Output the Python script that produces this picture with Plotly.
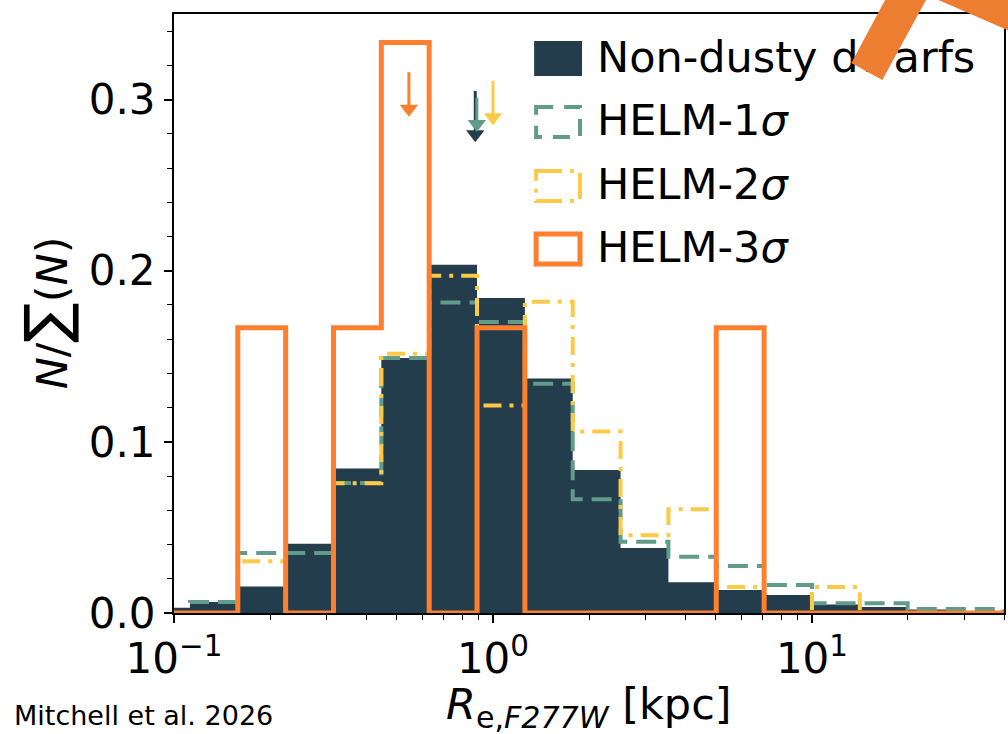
import numpy as np
import plotly.graph_objects as go

# ---- histogram data: log10 bin edges in kpc and normalised counts per bin ----
log_edges = [-1.10, -0.95, -0.80, -0.65, -0.50, -0.35, -0.20, -0.05, 0.10,
             0.25, 0.40, 0.55, 0.70, 0.85, 1.00, 1.15, 1.30, 1.45, 1.60]

frac_nondusty = [0.003, 0.0065, 0.0155, 0.0405, 0.0845, 0.149, 0.2035, 0.184,
                 0.137, 0.0835, 0.038, 0.018, 0.0135, 0.0105, 0.005, 0.0035,
                 0.002, 0.0005]
frac_helm1 = [0.0, 0.0065, 0.035, 0.035, 0.076, 0.149, 0.1815, 0.170, 0.134,
              0.0665, 0.0417, 0.0329, 0.0275, 0.0164, 0.0057, 0.0057, 0.0023,
              0.0023]
frac_helm2 = [0.0, 0.0, 0.0303, 0.0, 0.0758, 0.1515, 0.197, 0.1212, 0.1818,
              0.1061, 0.0455, 0.0606, 0.0152, 0.0, 0.0152, 0.0, 0.0, 0.0]
frac_helm3 = [0.0, 0.0, 0.1667, 0.0, 0.1667, 0.3333, 0.0, 0.1667, 0.0, 0.0,
              0.0, 0.0, 0.1667, 0.0, 0.0, 0.0, 0.0, 0.0]

# median sizes (kpc) marked by arrows, with arrow start / tip heights
median_kpc = [0.88, 0.89, 1.00, 0.545]
arrow_start = [0.305, 0.301, 0.311, 0.316]
arrow_tip = [0.275, 0.281, 0.285, 0.290]

series_names = ["Non-dusty dwarfs", "HELM-1<i>σ</i>", "HELM-2<i>σ</i>", "HELM-3<i>σ</i>"]

NAVY = "#233d4d"
TEAL = "#619b8a"
YELLOW = "#fcca46"
ORANGE = "#fe7f2d"
colors = [NAVY, TEAL, YELLOW, ORANGE]

FONT = "DejaVu Sans"

# ---- figure geometry (pixels) ----
W, H = 1008, 734
L, R, T, B = 174, 2, 14, 121
PW, PH = W - L - R, H - T - B
Y_MAX = 0.35
X_LOG_RANGE = [-1.0, float(np.log10(40))]


def px(x):
    return (x - L) / PW


def py(y):
    return (H - B - y) / PH


def data_x(x_pix):
    lo, hi = X_LOG_RANGE
    return 10 ** (lo + px(x_pix) * (hi - lo))


def data_y(y_pix):
    return py(y_pix) * Y_MAX


edges = 10 ** np.array(log_edges)


def step_outline(vals):
    xs = np.concatenate([[edges[0]], edges[:-1], [edges[-1], edges[-1]]])
    ys = [0.0] + list(vals) + [vals[-1], 0.0]
    return xs, ys


fig = go.Figure()

# filled histogram
fig.add_trace(go.Scatter(
    x=np.concatenate([edges[:-1], [edges[-1]]]),
    y=list(frac_nondusty) + [frac_nondusty[-1]],
    mode="lines", line=dict(shape="hv", width=0, color=NAVY),
    fill="tozeroy", fillcolor=NAVY, name=series_names[0],
    showlegend=False, hoverinfo="skip"))

# step outlines
step_styles = [
    (frac_helm1, TEAL, "20px,9px", 4),
    (frac_helm2, YELLOW, "18px,8px,4px,8px", 4),
    (frac_helm3, ORANGE, "solid", 5),
]
for (vals, col, dash, lw), name in zip(step_styles, series_names[1:]):
    xs, ys = step_outline(vals)
    fig.add_trace(go.Scatter(
        x=xs, y=ys, mode="lines", name=name,
        line=dict(shape="hv", color=col, width=lw, dash=dash),
        showlegend=False, hoverinfo="skip"))

# median arrows: shaft + downward triangle head whose tip sits at arrow_tip
HEAD = 16                       # marker size, px
head_off = (HEAD / 2) * Y_MAX / PH
for m, y0, y1, col in zip(median_kpc, arrow_start, arrow_tip, colors):
    yc = y1 + head_off
    fig.add_trace(go.Scatter(
        x=[m, m], y=[y0, yc], mode="lines",
        line=dict(color=col, width=3), showlegend=False, hoverinfo="skip"))
    fig.add_trace(go.Scatter(
        x=[m], y=[yc], mode="markers",
        marker=dict(symbol="triangle-down", size=HEAD, color=col,
                    line=dict(width=0)),
        showlegend=False, hoverinfo="skip"))

# legend labels drawn as a text trace (so the slide pointer can sit on top)
legend_rows = [59, 122, 186, 249]
fig.add_trace(go.Scatter(
    x=[data_x(598)] * 4, y=[data_y(r + 2) for r in legend_rows],
    mode="text", text=series_names, textposition="middle right",
    textfont=dict(family=FONT, size=43, color="black"),
    cliponaxis=False, showlegend=False, hoverinfo="skip"))

annotations = []

# legend patches
shapes = []
shapes.append(dict(type="rect", xref="paper", yref="paper",
                   x0=px(535), x1=px(583), y0=py(41), y1=py(76),
                   fillcolor=NAVY, line=dict(width=0), layer="above"))
for yc, col, dash, lw in zip(legend_rows[1:], [TEAL, YELLOW, ORANGE],
                             ["17px,11px", "26px,8px,4px,8px", "solid"],
                             [4, 4, 5]):
    shapes.append(dict(type="rect", xref="paper", yref="paper",
                       x0=px(537), x1=px(581), y0=py(yc - 15), y1=py(yc + 15),
                       fillcolor="rgba(0,0,0,0)",
                       line=dict(color=col, width=lw, dash=dash), layer="above"))

# axis titles
annotations.append(dict(
    x=px(590), y=py(707), xref="paper", yref="paper", xanchor="center",
    yanchor="middle", showarrow=False,
    text="<i>R</i><sub>e,<i>F277W</i></sub> [kpc]",
    font=dict(family=FONT, size=43, color="black")))
annotations.append(dict(
    x=px(46), y=py(313), xref="paper", yref="paper", xanchor="center",
    yanchor="middle", showarrow=False, textangle=-90,
    text="<i>N</i>/<span style='font-size:60px'>∑</span>(<i>N</i>)",
    font=dict(family=FONT, size=43, color="black")))

# citation along the lower edge
annotations.append(dict(
    x=px(275), y=py(733), xref="paper", yref="paper", xanchor="right",
    yanchor="bottom", showarrow=False, text="Mitchell et al. 2026",
    font=dict(family=FONT, size=27, color="black")))


# orange slide pointer
def path(points):
    return "M " + " L ".join(f"{px(a)},{py(b)}" for a, b in points) + " Z"


shapes.append(dict(type="path", xref="paper", yref="paper", layer="above",
                   path=path([(853, 63), (884, 80), (930, -4), (889, -4)]),
                   fillcolor="#ed7d31", line=dict(width=0)))
shapes.append(dict(type="path", xref="paper", yref="paper", layer="above",
                   path=path([(931, -4), (1012, -4), (1012, 31)]),
                   fillcolor="#ed7d31", line=dict(width=0)))

minor_x = [0.2, 0.3, 0.4, 0.5, 0.6, 0.7, 0.8, 0.9,
           2, 3, 4, 5, 6, 7, 8, 9, 20, 30, 40]

fig.update_layout(
    width=W, height=H,
    margin=dict(l=L, r=R, t=T, b=B, pad=0),
    paper_bgcolor="white", plot_bgcolor="white",
    font=dict(family=FONT, size=42, color="black"),
    showlegend=False,
    annotations=annotations, shapes=shapes,
    xaxis=dict(
        type="log", range=X_LOG_RANGE,
        tickmode="array", tickvals=[0.1, 1, 10],
        ticktext=["10<sup>−1</sup>", "10<sup>0</sup>", "10<sup>1</sup>"],
        ticks="outside", ticklen=8, tickwidth=1.8, tickcolor="black",
        showline=True, linecolor="black", linewidth=2, mirror=True,
        showgrid=False, zeroline=False,
        tickfont=dict(family=FONT, size=42, color="black"),
        minor=dict(tickmode="array", tickvals=minor_x, ticks="outside",
                   ticklen=5, tickwidth=1.4, tickcolor="black", showgrid=False),
    ),
    yaxis=dict(
        range=[0, Y_MAX], tickmode="linear", tick0=0, dtick=0.1,
        tickformat=".1f",
        ticks="outside", ticklen=8, tickwidth=1.8, tickcolor="black",
        showline=True, linecolor="black", linewidth=2, mirror=True,
        showgrid=False, zeroline=False,
        tickfont=dict(family=FONT, size=42, color="black"),
        minor=dict(dtick=0.02, ticks="outside", ticklen=5, tickwidth=1.4,
                   tickcolor="black", showgrid=False),
    ),
)

fig.write_html("out.html")
